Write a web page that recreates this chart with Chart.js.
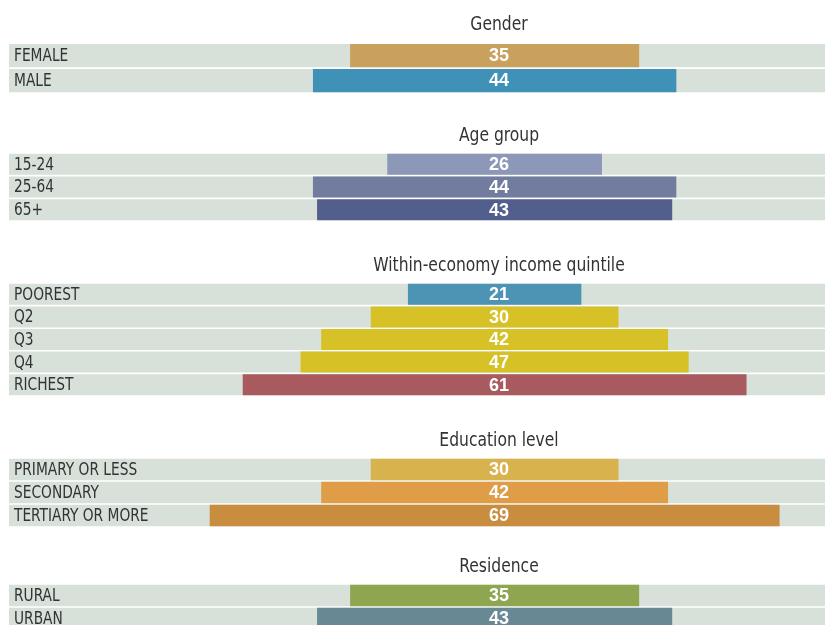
<!DOCTYPE html>
<html>
<head>
<meta charset="utf-8">
<script src="https://cdn.jsdelivr.net/npm/chart.js@4.4.0/dist/chart.umd.min.js"></script>
<style>
  html, body { margin: 0; padding: 0; background: #fff; overflow: hidden; }
  body { width: 825px; height: 625px; position: relative; }
  .group { position: absolute; left: 0; width: 825px; }
</style>
</head>
<body>
<div id="charts"></div>
<script>
// --- data ---
const groupTitles = ['Gender', 'Age group', 'Within-economy income quintile', 'Education level', 'Residence'];

const genderLabels = ['FEMALE', 'MALE'];
const genderValues = [35, 44];

const ageLabels = ['15-24', '25-64', '65+'];
const ageValues = [26, 44, 43];

const incomeLabels = ['POOREST', 'Q2', 'Q3', 'Q4', 'RICHEST'];
const incomeValues = [21, 30, 42, 47, 61];

const educationLabels = ['PRIMARY OR LESS', 'SECONDARY', 'TERTIARY OR MORE'];
const educationValues = [30, 42, 69];

const residenceLabels = ['RURAL', 'URBAN'];
const residenceValues = [35, 43];

// --- styles ---
const genderColors = ['#c9a05c', '#3f91b7'];
const ageColors = ['#8d97b8', '#717c9f', '#525e8c'];
const incomeColors = ['#4d93b4', '#d6c127', '#d6c127', '#d6c127', '#a85a5e'];
const educationColors = ['#d8b24c', '#e09d47', '#c98d40'];
const residenceColors = ['#8fa651', '#688893'];

const TRACK = '#d7e1da';
const TEXT = '#333333';
const NARROW = '"Liberation Sans Narrow", "DejaVu Sans Condensed", "Arial Narrow", sans-serif';
const X_MIN = -58.8, X_MAX = 40;
const CENTER_X = 499;
const LABEL_X = 14;

// canvas top, canvas height, chart area top, title y (all relative to canvas)
const groups = [
  { labels: genderLabels, values: genderValues, colors: genderColors, top: 0, height: 93, padTop: 43, titleY: 25 },
  { labels: ageLabels, values: ageValues, colors: ageColors, top: 115, height: 106, padTop: 38, titleY: 21 },
  { labels: incomeLabels, values: incomeValues, colors: incomeColors, top: 245, height: 151, padTop: 38, titleY: 21 },
  { labels: educationLabels, values: educationValues, colors: educationColors, top: 420, height: 107, padTop: 38, titleY: 21 },
  { labels: residenceLabels, values: residenceValues, colors: residenceColors, top: 545, height: 85, padTop: 39, titleY: 22 }
];

// condensed look: squeeze text horizontally around its anchor
function squeezedText(ctx, text, x, y, sx) {
  ctx.save();
  ctx.translate(x, y);
  ctx.scale(sx, 1);
  ctx.fillText(text, 0, 0);
  ctx.restore();
}

const overlayText = {
  id: 'overlayText',
  afterDatasetsDraw(chart, args, opts) {
    const ctx = chart.ctx;
    const meta = chart.getDatasetMeta(0);
    ctx.save();
    ctx.textBaseline = 'middle';
    // group title
    ctx.textAlign = 'center';
    ctx.fillStyle = TEXT;
    ctx.font = '19px ' + NARROW;
    squeezedText(ctx, opts.title, CENTER_X, opts.titleY, 0.91);
    // row labels
    ctx.textAlign = 'left';
    ctx.font = '17px ' + NARROW;
    meta.data.forEach((bar, i) => {
      squeezedText(ctx, chart.data.labels[i], LABEL_X, bar.y + 1, 0.9);
    });
    // value labels
    ctx.textAlign = 'center';
    ctx.fillStyle = '#ffffff';
    ctx.font = 'bold 18px "Liberation Sans", Arial, sans-serif';
    meta.data.forEach((bar, i) => {
      ctx.fillText(String(opts.values[i]), CENTER_X, bar.y + 1);
    });
    ctx.restore();
  }
};

const holder = document.getElementById('charts');

groups.forEach((g, gi) => {
  const div = document.createElement('div');
  div.className = 'group';
  div.style.top = g.top + 'px';
  div.style.height = g.height + 'px';
  const canvas = document.createElement('canvas');
  div.appendChild(canvas);
  holder.appendChild(div);

  new Chart(canvas, {
    type: 'bar',
    data: {
      labels: g.labels,
      datasets: [{
        data: g.values.map(v => [-v / 2, v / 2]),
        backgroundColor: g.colors,
        grouped: false,
        order: 1,
        barPercentage: 1,
        categoryPercentage: 0.93
      }, {
        data: g.labels.map(() => [X_MIN, X_MAX]),
        backgroundColor: TRACK,
        grouped: false,
        order: 2,
        barPercentage: 1,
        categoryPercentage: 0.93
      }]
    },
    options: {
      indexAxis: 'y',
      responsive: true,
      maintainAspectRatio: false,
      animation: false,
      layout: { padding: { left: 9, right: 0, top: g.padTop, bottom: 0 } },
      plugins: {
        legend: { display: false },
        tooltip: { enabled: false },
        overlayText: { title: groupTitles[gi], titleY: g.titleY, values: g.values }
      },
      scales: {
        x: { display: false, min: X_MIN, max: X_MAX },
        y: { display: false }
      }
    },
    plugins: [overlayText]
  });
});
</script>
</body>
</html>
